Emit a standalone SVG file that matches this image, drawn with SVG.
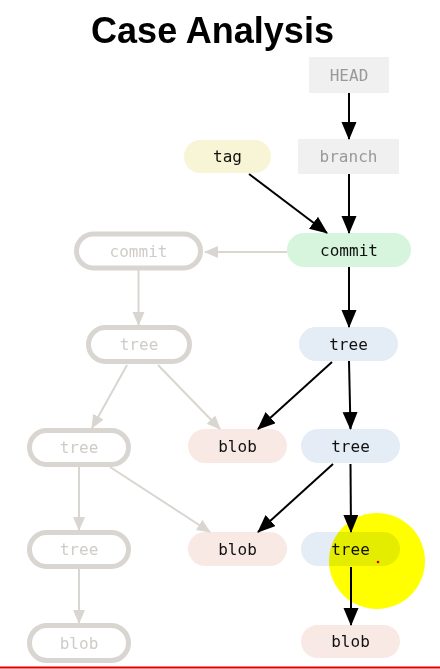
<svg xmlns="http://www.w3.org/2000/svg" width="440" height="669" viewBox="0 0 440 669">
<style>
.t{font-family:"DejaVu Sans Mono","Liberation Mono",monospace;font-size:16px;text-anchor:middle}
.dk{fill:#111}
.md{fill:#999}
.lt{fill:#cfccc8}
.ghost{fill:#fff;stroke:#d9d6d1;stroke-width:5}
.blue{fill:#e4ecf6}
.pink{fill:#f9e9e5}
.bk{stroke:#000;stroke-width:2;fill:none;marker-end:url(#ab)}
.gy{stroke:#d9d6d1;stroke-width:2;fill:none;marker-end:url(#ag)}
</style>
<defs>
<marker id="ab" markerUnits="userSpaceOnUse" markerWidth="18" markerHeight="16" refX="17" refY="7.5" orient="auto"><path d="M0,0 L18,7.5 L0,15 z" fill="#000"/></marker>
<marker id="ag" markerUnits="userSpaceOnUse" markerWidth="14" markerHeight="13" refX="13" refY="6" orient="auto"><path d="M0,0 L14,6 L0,12 z" fill="#d9d6d1"/></marker>
</defs>
<rect width="440" height="669" fill="#fff"/>
<text x="212.5" y="43" font-family="Liberation Sans, Arial, sans-serif" font-size="36" font-weight="bold" text-anchor="middle" fill="#000">Case Analysis</text>

<g id="head"><rect x="309" y="57" width="80" height="36" fill="#f0f0f0"/><text class="t md" x="349" y="80.5">HEAD</text></g>
<g id="branch"><rect x="298" y="139" width="101" height="35" fill="#f0f0f0"/><text class="t md" x="348.5" y="162">branch</text></g>
<g id="tag"><rect x="184" y="140" width="87" height="33" rx="16.5" fill="#f8f4d6"/><text class="t dk" x="227.5" y="162">tag</text></g>
<g id="commit"><rect x="287" y="233" width="124" height="34" rx="17" fill="#d6f5dc"/><text class="t dk" x="349" y="255.5">commit</text></g>
<g id="commit-old"><rect class="ghost" x="76.5" y="234" width="124" height="34" rx="17"/><text class="t lt" x="138.5" y="256.5">commit</text></g>
<g id="tree1"><rect class="blue" x="299" y="327" width="99" height="34" rx="17"/><text class="t dk" x="348.5" y="349.5">tree</text></g>
<g id="tree-old1"><rect class="ghost" x="88.5" y="327.5" width="101" height="34" rx="17"/><text class="t lt" x="139" y="350">tree</text></g>
<g id="tree-old2"><rect class="ghost" x="29.5" y="430.5" width="99" height="34" rx="17"/><text class="t lt" x="79" y="453">tree</text></g>
<g id="blob1"><rect class="pink" x="188" y="429" width="99" height="34" rx="17"/><text class="t dk" x="237.5" y="451.5">blob</text></g>
<g id="tree2"><rect class="blue" x="301" y="429" width="99" height="34" rx="17"/><text class="t dk" x="350.5" y="451.5">tree</text></g>
<g id="tree-old3"><rect class="ghost" x="29.5" y="532.5" width="99" height="34" rx="17"/><text class="t lt" x="79" y="555">tree</text></g>
<g id="blob2"><rect class="pink" x="188" y="532" width="99" height="34" rx="17"/><text class="t dk" x="237.5" y="554.5">blob</text></g>
<g id="tree3"><rect class="blue" x="301" y="532" width="99" height="34" rx="17"/><text class="t dk" x="350.5" y="554.5">tree</text></g>
<g id="blob3"><rect class="pink" x="301" y="625" width="99" height="33" rx="16.5"/><text class="t dk" x="350.5" y="647">blob</text></g>
<g id="blob-old"><rect class="ghost" x="29.5" y="625.5" width="99" height="35" rx="17.5"/><text class="t lt" x="79" y="648.5">blob</text></g>

<circle cx="377" cy="561" r="48" fill="#ffff00" style="mix-blend-mode:multiply"/>
<circle cx="378" cy="562" r="1.3" fill="#e00000"/>

<g id="connectors">
<path class="bk" d="M349,93 L349,139"/>
<path class="bk" d="M349,174 L349,233"/>
<path class="bk" d="M249,174 L327,233"/>
<path class="bk" d="M349,267 L349,327"/>
<path class="bk" d="M332,362 L258,429"/>
<path class="bk" d="M349,361 L350.5,429"/>
<path class="bk" d="M333,464 L258,532"/>
<path class="bk" d="M350.5,464 L351,532"/>
<path class="bk" d="M351,567 L351,625"/>
<path class="gy" d="M287,252 L205,252"/>
<path class="gy" d="M138.5,270 L138.5,325"/>
<path class="gy" d="M127,365 L92,428"/>
<path class="gy" d="M158,365 L220,429"/>
<path class="gy" d="M79,467 L79,530"/>
<path class="gy" d="M110,467 L210,532"/>
<path class="gy" d="M79,569 L79,623"/>
</g>
<line x1="0" y1="667.5" x2="440" y2="667.5" stroke="#e00000" stroke-width="2"/>
</svg>
